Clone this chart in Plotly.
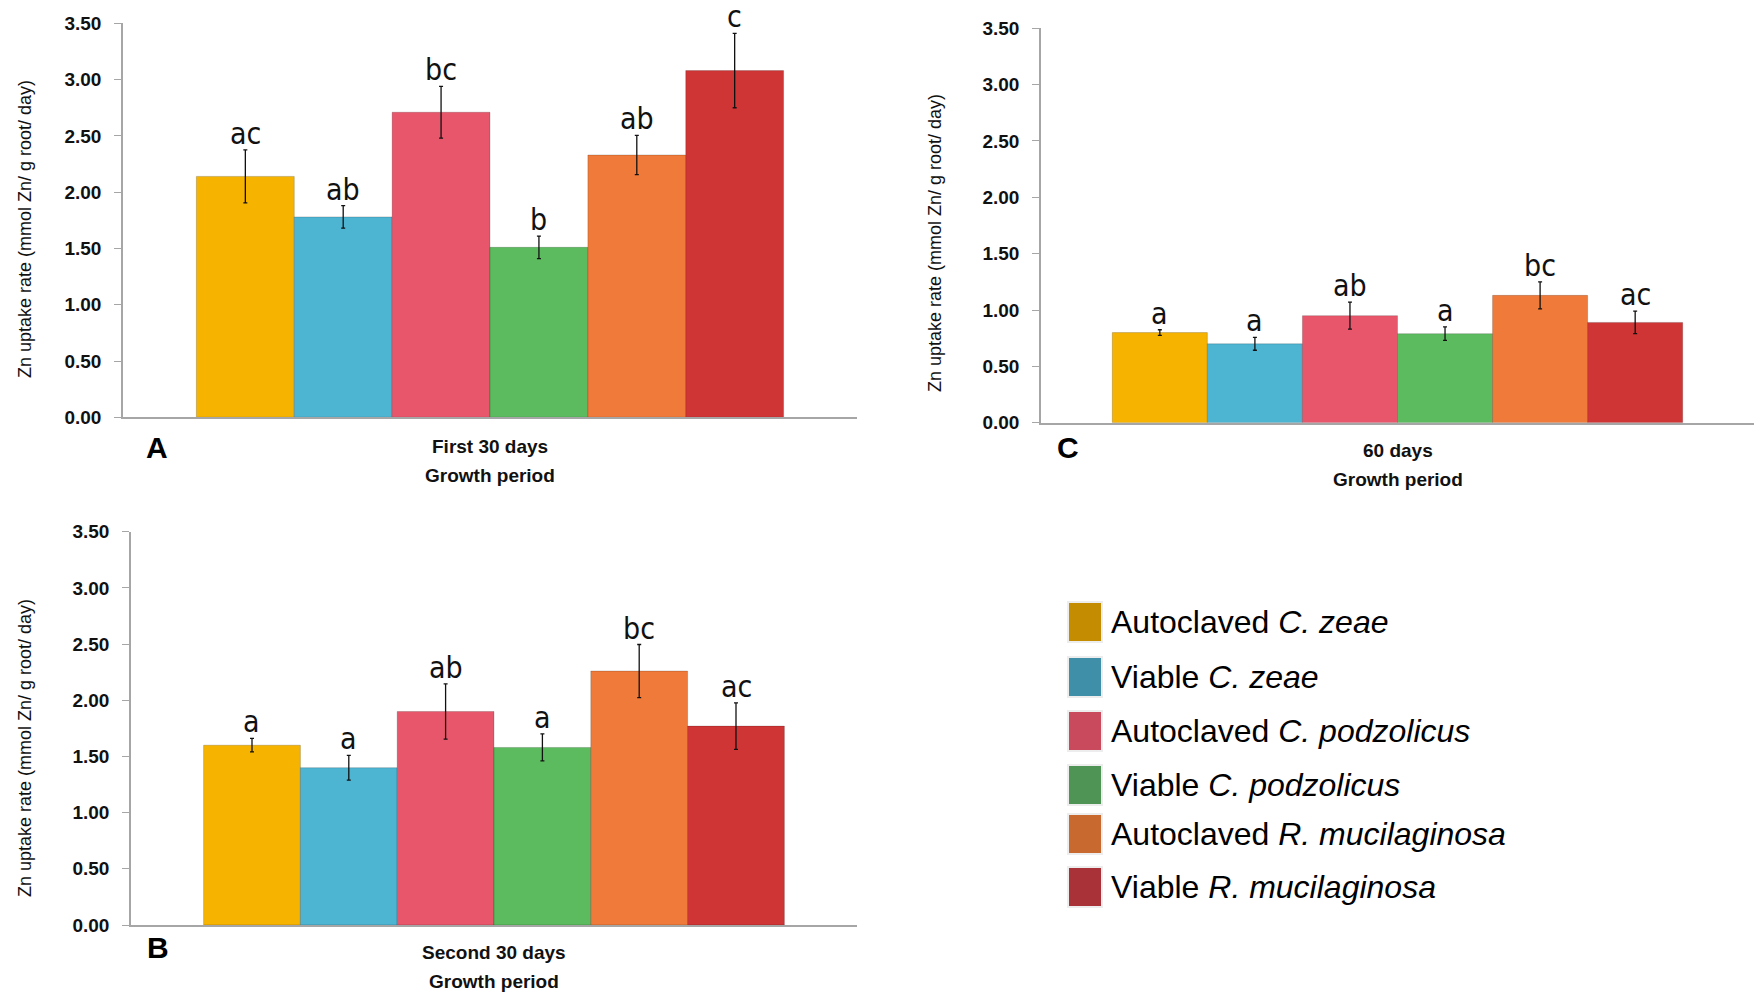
import plotly.graph_objects as go

# ---------------- data ----------------
series_prefix = ["Autoclaved", "Viable", "Autoclaved", "Viable", "Autoclaved", "Viable"]
series_species = ["C. zeae", "C. zeae", "C. podzolicus", "C. podzolicus", "R. mucilaginosa", "R. mucilaginosa"]

period_A = "First 30 days"
values_A = [2.14, 1.78, 2.71, 1.51, 2.33, 3.08]
errors_A = [0.235, 0.10, 0.23, 0.10, 0.175, 0.33]
letters_A = ["ac", "ab", "bc", "b", "ab", "c"]

period_B = "Second 30 days"
values_B = [1.60, 1.40, 1.90, 1.58, 2.26, 1.77]
errors_B = [0.06, 0.11, 0.245, 0.12, 0.236, 0.207]
letters_B = ["a", "a", "ab", "a", "bc", "ac"]

period_C = "60 days"
values_C = [0.80, 0.70, 0.95, 0.79, 1.13, 0.89]
errors_C = [0.025, 0.057, 0.12, 0.06, 0.12, 0.10]
letters_C = ["a", "a", "ab", "a", "bc", "ac"]

y_ticks = [0, 0.5, 1.0, 1.5, 2.0, 2.5, 3.0, 3.5]
y_title = "Zn uptake rate (mmol Zn/ g root/ day)"
x_title = "Growth period"

# ---------------- styles ----------------
bar_colors = ["#F6B300", "#4DB4D2", "#E8566B", "#5CBB5E", "#F07A3A", "#CF3535"]
legend_colors = ["#C48C00", "#3F8FA8", "#C94A5C", "#4F9455", "#C8692F", "#A83238"]

W, H = 1754, 993
FONT = "Liberation Sans, Arial, sans-serif"
NARROW = "Liberation Sans Narrow, Arial Narrow, DejaVu Sans Condensed, Liberation Sans, Arial, sans-serif"
AXIS_GRAY = "#A6A6A6"
BAR_FRACTION = 0.8

def px_x(p):
    return p / W

def px_y(p):
    return (H - p) / H

# panel geometry (pixels)
panels = [
    dict(key="A", xa="x", ya="y", x0=123, x1=857, y0=417.3, y1=23.3,
         period=period_A, values=values_A, errors=errors_A, letters=letters_A,
         ytitle_x=25, ytitle_y=229, label_y=446, title_y=476, letter_xy=(157, 447)),
    dict(key="B", xa="x2", ya="y2", x0=131, x1=857, y0=925, y1=531.7,
         period=period_B, values=values_B, errors=errors_B, letters=letters_B,
         ytitle_x=25, ytitle_y=748, label_y=952, title_y=981, letter_xy=(158, 947)),
    dict(key="C", xa="x3", ya="y3", x0=1041, x1=1754, y0=422.7, y1=28.3,
         period=period_C, values=values_C, errors=errors_C, letters=letters_C,
         ytitle_x=935, ytitle_y=243, label_y=450, title_y=479, letter_xy=(1068, 447)),
]

fig = go.Figure()
annotations = []
layout_axes = {}

for p in panels:
    n = len(p["values"])
    for i in range(n):
        fig.add_trace(go.Bar(
            x=[p["period"]], y=[p["values"][i]],
            name=f"{series_prefix[i]} {series_species[i]}",
            xaxis=p["xa"], yaxis=p["ya"],
            marker=dict(color=bar_colors[i], line=dict(color="rgba(0,0,0,0.18)", width=1)),
            error_y=dict(type="data", array=[p["errors"][i]], visible=True,
                         color="#111111", thickness=1.3, width=2),
            showlegend=False, hoverinfo="skip",
        ))
    axis_px = p["x1"] - p["x0"]
    bar_px = axis_px * BAR_FRACTION / n
    for i in range(n):
        annotations.append(dict(
            x=p["period"], y=p["values"][i] + p["errors"][i],
            xref=p["xa"], yref=p["ya"],
            xshift=(i - (n - 1) / 2) * bar_px, yshift=-3,
            text=p["letters"][i], showarrow=False, yanchor="bottom",
            font=dict(family=NARROW, size=30, color="#111111"),
        ))
    cx = (p["x0"] + p["x1"]) / 2
    annotations += [
        dict(x=px_x(cx), y=px_y(p["label_y"]), xref="paper", yref="paper",
             text=p["period"], showarrow=False, xanchor="center", yanchor="middle",
             font=dict(family=FONT, size=19, color="#111111", weight="bold")),
        dict(x=px_x(cx), y=px_y(p["title_y"]), xref="paper", yref="paper",
             text=x_title, showarrow=False, xanchor="center", yanchor="middle",
             font=dict(family=FONT, size=19, color="#111111", weight="bold")),
        dict(x=px_x(p["letter_xy"][0]), y=px_y(p["letter_xy"][1]), xref="paper", yref="paper",
             text=f"<b>{p['key']}</b>", showarrow=False, xanchor="center", yanchor="middle",
             font=dict(family=FONT, size=30, color="#000000")),
        dict(x=px_x(p["ytitle_x"]), y=px_y(p["ytitle_y"]), xref="paper", yref="paper",
             text=y_title, showarrow=False, textangle=-90, xanchor="center", yanchor="middle",
             font=dict(family=FONT, size=18, color="#111111")),
    ]
    xname = "xaxis" if p["xa"] == "x" else "xaxis" + p["xa"][1:]
    yname = "yaxis" if p["ya"] == "y" else "yaxis" + p["ya"][1:]
    layout_axes[xname] = dict(
        domain=[px_x(p["x0"]), min(1.0, px_x(p["x1"]))], anchor=p["ya"],
        showline=True, linecolor=AXIS_GRAY, linewidth=1.5,
        ticks="inside", tickson="boundaries", ticklen=5, tickcolor=AXIS_GRAY,
        showticklabels=False, showgrid=False, zeroline=False, fixedrange=True,
        automargin=False,
    )
    layout_axes[yname] = dict(
        domain=[px_y(p["y0"]), px_y(p["y1"])], anchor=p["xa"],
        range=[0, 3.5], tickvals=y_ticks, tickformat=".2f",
        showline=True, linecolor=AXIS_GRAY, linewidth=1.5,
        ticks="outside", ticklen=7, tickcolor=AXIS_GRAY, tickwidth=1,
        ticklabelstandoff=9,
        tickfont=dict(family=FONT, size=19, color="#111111", weight="bold"),
        showgrid=False, zeroline=False, fixedrange=True,
        automargin=False,
    )

# ---------------- manual legend ----------------
legend_rows_y = [622, 677, 731, 785, 834, 887]
shapes = []
for i, yc in enumerate(legend_rows_y):
    shapes.append(dict(
        type="rect", xref="paper", yref="paper",
        x0=px_x(1068), x1=px_x(1102), y0=px_y(yc + 20), y1=px_y(yc - 20),
        fillcolor=legend_colors[i], line=dict(color="#EDEDED", width=2),
    ))
    annotations.append(dict(
        x=px_x(1109), y=px_y(yc), xref="paper", yref="paper",
        text=f"{series_prefix[i]} <i>{series_species[i]}</i>",
        showarrow=False, xanchor="left", yanchor="middle",
        font=dict(family=FONT, size=32, color="#000000"),
    ))

fig.update_layout(
    width=W, height=H,
    margin=dict(l=0, r=0, t=0, b=0, pad=0, autoexpand=False),
    paper_bgcolor="white", plot_bgcolor="white",
    barmode="group", bargap=1 - BAR_FRACTION, bargroupgap=0,
    annotations=annotations, shapes=shapes,
    showlegend=False,
    **layout_axes,
)

fig.write_html("out.html")
